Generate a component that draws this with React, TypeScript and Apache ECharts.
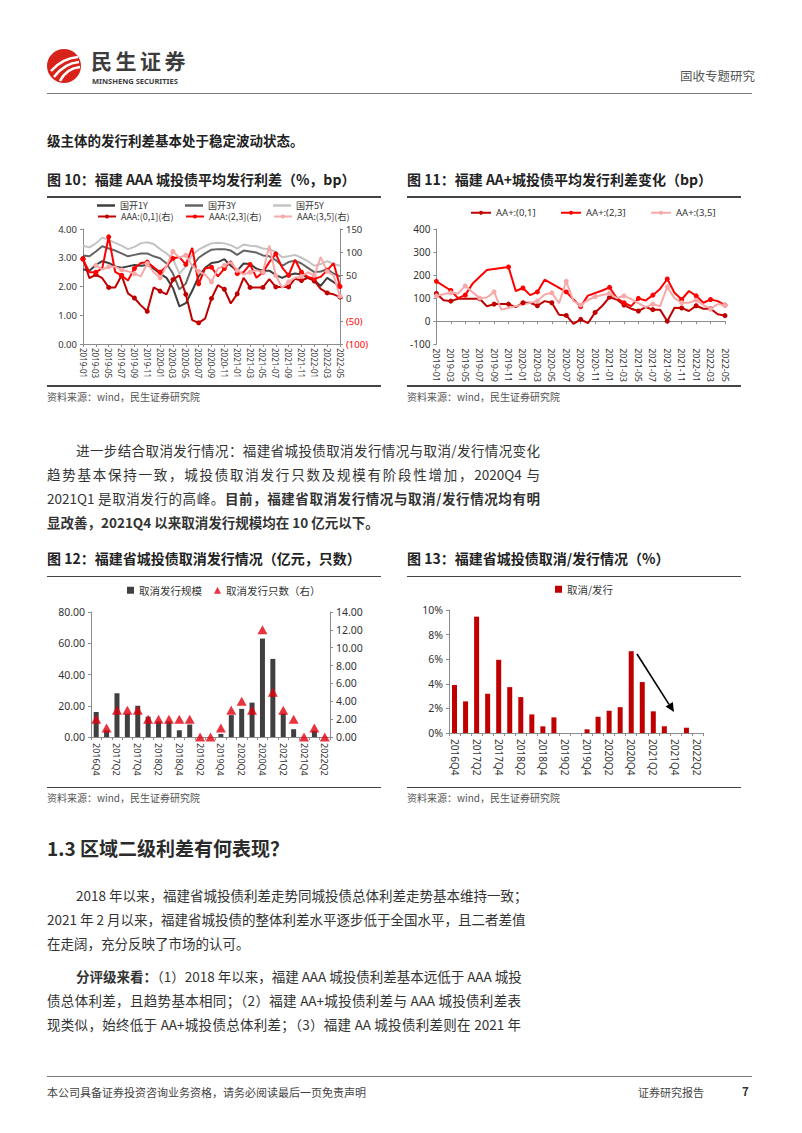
import React, { useEffect, useRef } from 'react';
import * as echarts from 'echarts';

const FF = '"Noto Sans", "Noto Sans CJK SC", sans-serif';
const CJK = '"Noto Sans CJK SC", "Noto Sans", sans-serif';

// ---------- Chart 10 data ----------
const months = ['2019-01','2019-02','2019-03','2019-04','2019-05','2019-06','2019-07','2019-08','2019-09','2019-10','2019-11','2019-12',
  '2020-01','2020-02','2020-03','2020-04','2020-05','2020-06','2020-07','2020-08','2020-09','2020-10','2020-11','2020-12',
  '2021-01','2021-02','2021-03','2021-04','2021-05','2021-06','2021-07','2021-08','2021-09','2021-10','2021-11','2021-12',
  '2022-01','2022-02','2022-03','2022-04','2022-05'];
const gk1y = [2.60,2.55,2.75,2.88,2.82,2.70,2.65,2.70,2.75,2.72,2.75,2.62,2.45,2.30,1.95,1.31,1.42,1.85,2.35,2.65,2.82,2.85,2.95,2.72,2.55,2.80,2.78,2.62,2.55,2.55,2.40,2.30,2.40,2.45,2.42,2.30,2.22,2.02,2.30,2.15,2.00];
const gk3y = [3.08,3.05,3.22,3.40,3.32,3.25,3.15,3.05,3.10,3.15,3.15,3.05,2.98,2.80,2.45,1.90,2.10,2.70,3.00,3.15,3.28,3.30,3.30,3.25,3.10,3.25,3.22,3.18,3.08,3.05,2.92,2.72,2.85,2.90,2.80,2.65,2.50,2.52,2.60,2.45,2.35];
const gk5y = [3.42,3.36,3.50,3.70,3.62,3.52,3.42,3.30,3.38,3.50,3.54,3.48,3.30,3.15,2.95,2.45,2.70,3.10,3.28,3.40,3.50,3.52,3.50,3.44,3.32,3.46,3.42,3.40,3.32,3.30,3.20,3.02,3.05,3.10,3.00,2.88,2.72,2.78,2.88,2.78,2.72];
const aaa01 = [86,43,51,43,23,23,49,10,0,-16,-29,23,15,8,40,49,8,-48,-54,-45,-1,28,19,-12,9,44,23,23,23,41,24,24,24,42,38,44,37,20,11,8,2];
const aaa23 = [84,56,56,65,133,57,49,38,64,76,78,67,56,69,86,89,73,109,31,64,67,47,64,80,53,56,73,44,56,78,96,66,49,83,56,46,42,46,60,76,25];
const aaa35 = [null,null,71,62,68,68,61,58,53,47,75,56,44,70,101,88,93,70,58,51,35,64,71,78,60,51,56,60,56,114,49,22,35,44,47,56,49,89,58,49,4];

// ---------- Chart 11 data ----------
const aa01 = [120,91,87,97,null,null,97,65,74,74,74,61,80,80,67,87,80,28,25,-12,8,-9,38,67,104,94,70,54,44,61,50,50,0,58,57,44,67,54,54,30,24];
const aa23 = [173,null,133,100,113,162,null,222,null,null,235,131,144,113,127,180,null,null,127,94,63,111,null,133,147,100,80,65,99,90,113,140,183,123,94,131,110,80,94,87,70];
const aa35 = [110,null,123,120,153,null,100,103,127,50,null,null,null,null,87,116,123,78,173,87,70,91,107,null,120,100,110,96,null,61,74,65,149,100,80,80,91,70,54,74,70];

// ---------- Chart 12 / 13 data ----------
const quarters = ['2016Q4','2017Q1','2017Q2','2017Q3','2017Q4','2018Q1','2018Q2','2018Q3','2018Q4','2019Q1','2019Q2','2019Q3','2019Q4',
  '2020Q1','2020Q2','2020Q3','2020Q4','2021Q1','2021Q2','2021Q3','2021Q4','2022Q1','2022Q2'];
const cancelScale = [16,4.3,28,15,20,13,10,10,4.3,8,0,0,2,14,18,22,63,50,15,5,0,4,0];
const cancelCount = [2,1,3,3,3,2,2,2,2,2,0,0,1,3,4,3,12,5,3,2,0,1,0];
const cancelRatio = [3.9,2.57,9.46,3.19,5.95,3.73,2.92,1.51,0.54,1.27,0,0,0.3,1.32,1.81,2.1,6.65,4.14,1.76,0.54,0,0.43,0];

const axisLineStyle = { show: true, lineStyle: { color: '#8c8c8c', width: 1 } };
const tick = { show: true, length: 3, lineStyle: { color: '#8c8c8c' } };

const legText = { fontSize: 9, color: '#333', fontFamily: CJK };
const opt10: any = {
  animation: false,
  textStyle: { fontFamily: FF },
  grid: { left: 36, right: 42, top: 32, bottom: 41 },
  legend: [
    { data: [{ name: '国开1Y', icon: 'rect' }], left: 50, top: 4, itemHeight: 2.5 },
    { data: [{ name: '国开3Y', icon: 'rect' }], left: 138, top: 4, itemHeight: 2.5 },
    { data: [{ name: '国开5Y', icon: 'rect' }], left: 226, top: 4, itemHeight: 2.5 },
    { data: ['AAA:(0,1](右)'], left: 50, top: 15, itemHeight: 5 },
    { data: ['AAA:(2,3](右)'], left: 138, top: 15, itemHeight: 5 },
    { data: ['AAA:(3,5](右)'], left: 226, top: 15, itemHeight: 5 },
  ].map((l) => ({ ...l, itemWidth: 18, itemGap: 4, padding: 0, textStyle: legText })),
  xAxis: {
    type: 'category', data: months, boundaryGap: false,
    axisLine: axisLineStyle, axisTick: { ...tick, interval: 1 },
    axisLabel: { interval: 1, rotate: -90, fontSize: 8, color: '#333', margin: 4 },
  },
  yAxis: [
    { type: 'value', min: 0, max: 4, interval: 1, axisLine: axisLineStyle, axisTick: tick, splitLine: { show: false },
      axisLabel: { formatter: (v: number) => v.toFixed(2), fontSize: 9.5, color: '#333', margin: 6 } },
    { type: 'value', min: -100, max: 150, interval: 50, position: 'right', axisLine: axisLineStyle, axisTick: tick, splitLine: { show: false },
      axisLabel: { formatter: (v: number) => (v < 0 ? `(${-v})` : `${v}`), color: (v: any) => (Number(v) < 0 ? '#ff0000' : '#333'), fontSize: 9.5, margin: 6 } },
  ],
  series: [
    { name: '国开1Y', type: 'line', data: gk1y, symbol: 'none', lineStyle: { width: 2, color: '#3f3f3f' }, itemStyle: { color: '#3f3f3f' } },
    { name: '国开3Y', type: 'line', data: gk3y, symbol: 'none', lineStyle: { width: 2, color: '#646464' }, itemStyle: { color: '#646464' } },
    { name: '国开5Y', type: 'line', data: gk5y, symbol: 'none', lineStyle: { width: 2, color: '#c3c3c3' }, itemStyle: { color: '#c3c3c3' } },
    { name: 'AAA:(0,1](右)', type: 'line', yAxisIndex: 1, data: aaa01, symbol: 'circle', symbolSize: 5, lineStyle: { width: 2, color: '#c00000' }, itemStyle: { color: '#c00000' } },
    { name: 'AAA:(2,3](右)', type: 'line', yAxisIndex: 1, data: aaa23, symbol: 'circle', symbolSize: 5, lineStyle: { width: 2, color: '#ff0000' }, itemStyle: { color: '#ff0000' } },
    { name: 'AAA:(3,5](右)', type: 'line', yAxisIndex: 1, data: aaa35, symbol: 'circle', symbolSize: 5, lineStyle: { width: 2, color: '#f7a8a8' }, itemStyle: { color: '#f7a8a8' } },
  ],
};

const opt11: any = {
  animation: false,
  textStyle: { fontFamily: FF },
  grid: { left: 28, right: 17, top: 32, bottom: 29 },
  legend: [
    { data: ['AA+:(0,1]'], left: 63, top: 11 },
    { data: ['AA+:(2,3]'], left: 153, top: 11 },
    { data: ['AA+:(3,5]'], left: 243, top: 11 },
  ].map((l) => ({ ...l, itemWidth: 20, itemHeight: 5, itemGap: 4, padding: 0, textStyle: { fontSize: 9.5, color: '#333' } })),
  xAxis: {
    type: 'category', data: months, boundaryGap: false,
    axisLine: { ...axisLineStyle, onZero: true }, axisTick: { ...tick, interval: 1 },
    axisLabel: { interval: 1, rotate: -90, fontSize: 9, color: '#333', margin: 4 },
  },
  yAxis: { type: 'value', min: -100, max: 400, interval: 100, axisLine: axisLineStyle, axisTick: tick, splitLine: { show: false },
    axisLabel: { fontSize: 10, color: '#333', margin: 6 } },
  series: [
    { name: 'AA+:(0,1]', type: 'line', data: aa01, connectNulls: true, symbol: 'circle', symbolSize: 5, lineStyle: { width: 2, color: '#c00000' }, itemStyle: { color: '#c00000' } },
    { name: 'AA+:(2,3]', type: 'line', data: aa23, connectNulls: true, symbol: 'circle', symbolSize: 5, lineStyle: { width: 2, color: '#ff0000' }, itemStyle: { color: '#ff0000' } },
    { name: 'AA+:(3,5]', type: 'line', data: aa35, connectNulls: true, symbol: 'circle', symbolSize: 5, lineStyle: { width: 2, color: '#f7a8a8' }, itemStyle: { color: '#f7a8a8' } },
  ],
};

const opt12: any = {
  animation: false,
  textStyle: { fontFamily: FF },
  grid: { left: 44, right: 52, top: 36, bottom: 50 },
  legend: {
    data: [{ name: '取消发行规模', icon: 'rect' }, { name: '取消发行只数（右）', icon: 'triangle' }],
    left: 80, top: 9, itemWidth: 7, itemHeight: 7, itemGap: 12, padding: 0,
    textStyle: { fontSize: 10.5, color: '#333', fontFamily: CJK },
  },
  xAxis: {
    type: 'category', data: quarters,
    axisLine: axisLineStyle, axisTick: { ...tick, interval: 0 },
    axisLabel: { interval: 1, rotate: -90, fontSize: 9, color: '#333', margin: 6 },
  },
  yAxis: [
    { type: 'value', min: 0, max: 80, interval: 20, axisLine: axisLineStyle, axisTick: tick, splitLine: { show: false },
      axisLabel: { formatter: (v: number) => v.toFixed(2), fontSize: 10.5, color: '#333', margin: 6 } },
    { type: 'value', min: 0, max: 14, interval: 2, position: 'right', axisLine: axisLineStyle, axisTick: tick, splitLine: { show: false },
      axisLabel: { formatter: (v: number) => v.toFixed(2), fontSize: 10.5, color: '#333', margin: 6 } },
  ],
  series: [
    { name: '取消发行规模', type: 'bar', data: cancelScale, barWidth: 5, itemStyle: { color: '#404040' } },
    { name: '取消发行只数（右）', type: 'scatter', yAxisIndex: 1, data: cancelCount, symbol: 'triangle', symbolSize: [10, 9], itemStyle: { color: '#e2000f' } },
  ],
};

const opt13: any = {
  animation: false,
  textStyle: { fontFamily: FF },
  grid: { left: 42, right: 39, top: 34, bottom: 54 },
  legend: {
    data: [{ name: '取消/发行', icon: 'rect' }],
    left: 148, top: 8, itemWidth: 7, itemHeight: 7, padding: 0,
    textStyle: { fontSize: 10.5, color: '#333', fontFamily: CJK },
  },
  xAxis: {
    type: 'category', data: quarters,
    axisLine: axisLineStyle, axisTick: { ...tick, interval: 0 },
    axisLabel: { interval: 1, rotate: -90, fontSize: 10, color: '#333', margin: 6 },
  },
  yAxis: { type: 'value', min: 0, max: 10, interval: 2, axisLine: axisLineStyle, axisTick: tick, splitLine: { show: false },
    axisLabel: { formatter: (v: number) => `${v}%`, fontSize: 10.5, color: '#333', margin: 6 } },
  series: [
    { name: '取消/发行', type: 'bar', data: cancelRatio, barWidth: 5, itemStyle: { color: '#c00000' } },
  ],
  graphic: [
    { type: 'line', shape: { x1: 230, y1: 78, x2: 262, y2: 128.4 }, style: { stroke: '#000', lineWidth: 1.6 } },
    { type: 'polygon', shape: { points: [[267, 136], [258.6, 130.6], [265.8, 126.0]] }, style: { fill: '#000' } },
  ],
};

function EChart({ option, style }: { option: any; style: React.CSSProperties }) {
  const ref = useRef<HTMLDivElement>(null);
  useEffect(() => {
    const c = echarts.init(ref.current as HTMLDivElement, null, { renderer: 'svg' });
    c.setOption(option);
    return () => c.dispose();
  }, []);
  return <div ref={ref} style={{ position: 'absolute', ...style }} />;
}

function T({ x, cy, size = 13.5, lh = 1.5, bold = false, color = '#333', w, justify = false, family, children }: any) {
  return (
    <div style={{
      position: 'absolute', left: x, top: cy - (size * lh) / 2, fontSize: size, lineHeight: `${size * lh}px`,
      fontWeight: bold ? 700 : 400, color, whiteSpace: 'nowrap', width: w, fontFamily: family,
      textAlign: justify ? 'justify' : 'left', textAlignLast: justify ? 'justify' : 'auto',
    } as any}>{children}</div>
  );
}

function HLine({ x, y, w, h = 1.5, c = '#444' }: any) {
  return <div style={{ position: 'absolute', left: x, top: y, width: w, height: h, background: c }} />;
}

export default function App() {
  const B = (s: string) => <b style={{ fontWeight: 700 }}>{s}</b>;
  return (
    <div style={{ position: 'absolute', left: 0, top: 0, width: 802, height: 1133, background: '#fff', overflow: 'hidden', fontFamily: CJK, color: '#333' }}>
      {/* header */}
      <svg style={{ position: 'absolute', left: 46, top: 48 }} width={36} height={36} viewBox="0 0 36 36">
        <circle cx={18} cy={18} r={17} fill="#d8231a" />
        <path d="M5 23 C 12 15, 20 10, 32 9" stroke="#fff" strokeWidth={2.6} fill="none" />
        <path d="M8 29 C 14 21, 21 15, 33 14" stroke="#fff" strokeWidth={2.6} fill="none" />
        <path d="M14 33 C 18 25, 24 20, 34 19" stroke="#fff" strokeWidth={2.6} fill="none" />
      </svg>
      <T x={91} cy={60.5} size={21} lh={1} bold color="#3c3c3c"><span style={{ letterSpacing: 3.5 }}>民生证券</span></T>
      <T x={92} cy={81.5} size={7.5} lh={1} bold color="#3c3c3c" family='"Noto Sans", sans-serif'>MINSHENG SECURITIES</T>
      <T x={680} cy={76} size={12.5} color="#555">固收专题研究</T>
      <HLine x={47} y={93} w={705} h={1.2} c="#7a7a7a" />

      <T x={47} cy={140} size={13.5} bold color="#222">级主体的发行利差基本处于稳定波动状态。</T>

      {/* figure 10 / 11 */}
      <T x={47} cy={179} size={14} bold color="#222">图 10：福建 AAA 城投债平均发行利差（%，bp）</T>
      <T x={407} cy={179} size={14} bold color="#222">图 11：福建 AA+城投债平均发行利差变化（bp）</T>
      <HLine x={47} y={196} w={334} />
      <HLine x={407} y={196} w={334} />
      <EChart option={opt10} style={{ left: 47, top: 197, width: 335, height: 188 }} />
      <EChart option={opt11} style={{ left: 407, top: 197, width: 335, height: 188 }} />
      <HLine x={47} y={385} w={334} />
      <HLine x={407} y={385} w={334} />
      <T x={47} cy={396} size={10} color="#555">资料来源：wind，民生证券研究院</T>
      <T x={407} cy={396} size={10} color="#555">资料来源：wind，民生证券研究院</T>

      {/* paragraph 1 */}
      <T x={76} cy={450} w={464} justify>进一步结合取消发行情况：福建省城投债取消发行情况与取消/发行情况变化</T>
      <T x={47} cy={474} w={493} justify>趋势基本保持一致，城投债取消发行只数及规模有阶段性增加，2020Q4 与</T>
      <T x={47} cy={498} w={493} justify>2021Q1 是取消发行的高峰。{B('目前，福建省取消发行情况与取消/发行情况均有明')}</T>
      <T x={47} cy={522}>{B('显改善，2021Q4 以来取消发行规模均在 10 亿元以下。')}</T>

      {/* figure 12 / 13 */}
      <T x={47} cy={558} size={14} bold color="#222">图 12：福建省城投债取消发行情况（亿元，只数）</T>
      <T x={407} cy={558} size={14} bold color="#222">图 13：福建省城投债取消/发行情况（%）</T>
      <HLine x={47} y={575.5} w={334} />
      <HLine x={407} y={575.5} w={334} />
      <EChart option={opt12} style={{ left: 47, top: 576, width: 335, height: 211 }} />
      <EChart option={opt13} style={{ left: 407, top: 576, width: 335, height: 211 }} />
      <HLine x={47} y={786.5} w={334} />
      <HLine x={407} y={786.5} w={334} />
      <T x={47} cy={797} size={10} color="#555">资料来源：wind，民生证券研究院</T>
      <T x={407} cy={797} size={10} color="#555">资料来源：wind，民生证券研究院</T>

      {/* section 1.3 */}
      <T x={47} cy={848} size={19} bold color="#2b2b2b">1.3 区域二级利差有何表现？</T>
      <T x={76} cy={895} w={445} justify>2018 年以来，福建省城投债利差走势同城投债总体利差走势基本维持一致；</T>
      <T x={47} cy={919} w={474} justify>2021 年 2 月以来，福建省城投债的整体利差水平逐步低于全国水平，且二者差值</T>
      <T x={47} cy={943}>在走阔，充分反映了市场的认可。</T>
      <T x={76} cy={976} w={445} justify>{B('分评级来看：')}（1）2018 年以来，福建 AAA 城投债利差基本远低于 AAA 城投</T>
      <T x={47} cy={1000} w={474} justify>债总体利差，且趋势基本相同；（2）福建 AA+城投债利差与 AAA 城投债利差表</T>
      <T x={47} cy={1024} w={474} justify>现类似，始终低于 AA+城投债总体利差；（3）福建 AA 城投债利差则在 2021 年</T>

      {/* footer */}
      <HLine x={47} y={1076} w={705} h={1.2} c="#7a7a7a" />
      <T x={47} cy={1092} size={11} color="#444">本公司具备证券投资咨询业务资格，请务必阅读最后一页免责声明</T>
      <T x={638} cy={1092} size={11} color="#444">证券研究报告</T>
      <T x={742} cy={1092} size={11.5} bold color="#333">7</T>
    </div>
  );
}
